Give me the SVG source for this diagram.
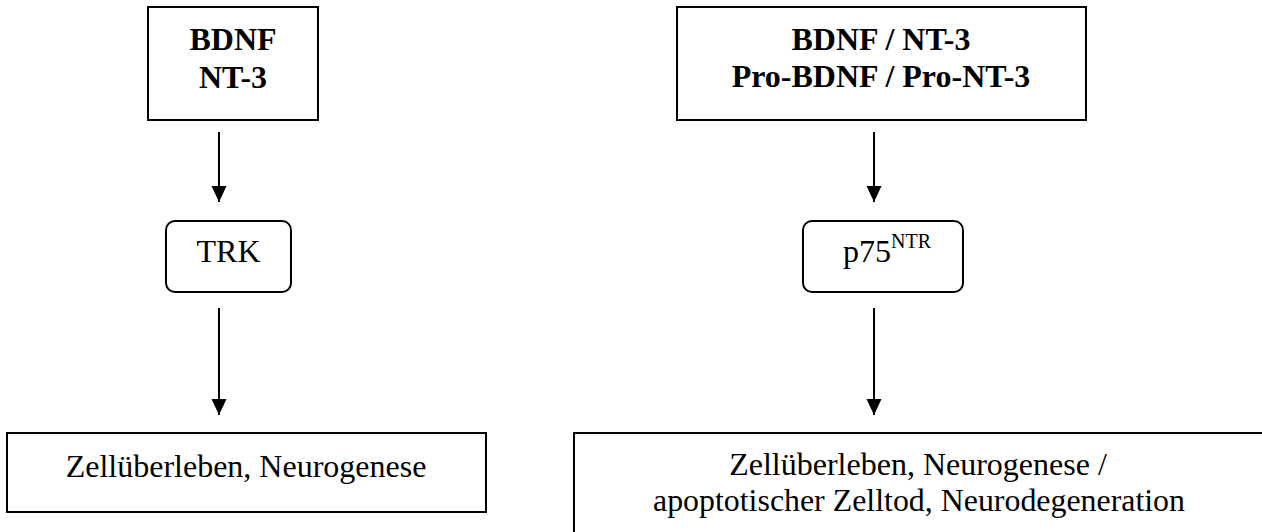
<svg xmlns="http://www.w3.org/2000/svg" width="1262" height="532" viewBox="0 0 1262 532">
<style>
.box{fill:#fff;stroke:#000;stroke-width:2}
.t{font-family:"Liberation Serif","Times New Roman",serif;font-size:32px;fill:#000;text-anchor:middle}
.b{font-weight:bold}
.c{stroke:#000;stroke-width:2;fill:none}
</style>
<defs>
<marker id="ah" viewBox="0 0 16 16" refX="16" refY="8" markerWidth="16" markerHeight="16" markerUnits="userSpaceOnUse" orient="auto">
<path d="M0,0.5 L16,8 L0,15.5 Z" fill="#000"/>
</marker>
</defs>
<rect width="1262" height="532" fill="#fff"/>
<g id="connectors">
<line class="c" x1="219" y1="132" x2="219" y2="202" marker-end="url(#ah)"/>
<line class="c" x1="219" y1="308" x2="219" y2="415" marker-end="url(#ah)"/>
<line class="c" x1="874" y1="132" x2="874" y2="202" marker-end="url(#ah)"/>
<line class="c" x1="874" y1="308" x2="874" y2="415" marker-end="url(#ah)"/>
</g>
<g id="n1">
<rect class="box" x="148" y="7" width="170" height="113"/>
<text class="t b" x="233" y="50">BDNF</text>
<text class="t b" x="233" y="88">NT-3</text>
</g>
<g id="n2">
<rect class="box" x="677" y="7" width="409" height="113"/>
<text class="t b" x="881" y="50">BDNF / NT-3</text>
<text class="t b" x="881" y="87">Pro-BDNF / Pro-NT-3</text>
</g>
<g id="n3">
<rect class="box" x="166" y="221" width="125" height="71" rx="9"/>
<text class="t" x="228.5" y="262">TRK</text>
</g>
<g id="n4">
<rect class="box" x="803" y="221" width="160" height="71" rx="9"/>
<text class="t" x="887" y="262">p75<tspan font-size="20" dy="-14">NTR</tspan></text>
</g>
<g id="n5">
<rect class="box" x="7" y="433" width="479" height="79"/>
<text class="t" x="246" y="477">Zellüberleben, Neurogenese</text>
</g>
<g id="n6">
<rect class="box" x="574" y="433" width="700" height="110"/>
<text class="t" x="918" y="475">Zellüberleben, Neurogenese /</text>
<text class="t" x="919" y="511" textLength="532" lengthAdjust="spacingAndGlyphs">apoptotischer Zelltod, Neurodegeneration</text>
</g>
</svg>
